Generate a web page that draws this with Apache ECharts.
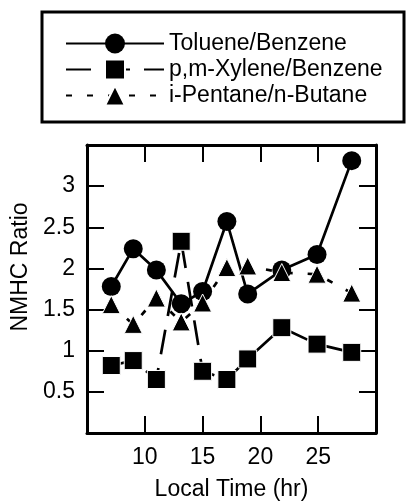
<!DOCTYPE html>
<html>
<head>
<meta charset="utf-8">
<style>
  html, body { margin: 0; padding: 0; background: #fff; }
  #chart { width: 406px; height: 502px; }
</style>
<script src="https://cdn.jsdelivr.net/npm/echarts@6/dist/echarts.min.js"></script>
</head>
<body>
<div id="chart"></div>
<script>
// Data
const localTime = [7.1, 9.0, 11.0, 13.15, 15.0, 17.1, 18.9, 21.85, 24.9, 27.9];
const tolueneBenzene = [1.78, 2.24, 1.98, 1.57, 1.72, 2.57, 1.69, 1.98, 2.17, 3.31];
const xyleneBenzene = [0.82, 0.88, 0.65, 2.33, 0.75, 0.65, 0.90, 1.28, 1.08, 0.98];
const pentaneButane = [1.56, 1.32, 1.64, 1.35, 1.58, 2.01, 2.03, 1.95, 1.93, 1.70];
const seriesNames = ['Toluene/Benzene', 'p,m-Xylene/Benzene', 'i-Pentane/n-Butane'];
const xTickLabels = ['10', '15', '20', '25'];
const yTickLabels = ['0.5', '1', '1.5', '2', '2.5', '3'];

const FONT = 'Liberation Sans, Arial, Helvetica, sans-serif';
const FS = 23;
const pair = (xs, ys) => xs.map((x, i) => [x, ys[i]]);

const chart = echarts.init(document.getElementById('chart'), null, { renderer: 'canvas' });

const axisCommon = {
  axisLine: { show: true, onZero: false, lineStyle: { color: '#000', width: 3 } },
  axisTick: { show: true, inside: true, length: 17, lineStyle: { color: '#000', width: 2 } },
  splitLine: { show: false }
};

const option = {
  animation: false,
  backgroundColor: '#fff',
  textStyle: { fontFamily: FONT },
  grid: { left: 87, right: 30, top: 145, bottom: 69, containLabel: false, outerBoundsMode: 'none' },
  legend: {
    orient: 'vertical',
    left: 60,
    top: 27,
    itemWidth: 98,
    itemHeight: 25,
    itemGap: 3,
    data: seriesNames,
    textStyle: { fontFamily: FONT, fontSize: FS, color: '#000' },
    selectedMode: false
  },
  graphic: [{
    type: 'rect',
    shape: { x: 42, y: 12, width: 362, height: 110 },
    style: { fill: 'none', stroke: '#000', lineWidth: 3 },
    silent: true
  }],
  xAxis: [
    Object.assign({}, axisCommon, {
      type: 'value', position: 'bottom', min: 5, max: 30, interval: 5,
      name: 'Local Time (hr)', nameLocation: 'middle', nameGap: 45,
      nameTextStyle: { fontFamily: FONT, fontSize: FS, color: '#000' },
      axisLabel: {
        fontFamily: FONT, fontSize: FS, color: '#000', margin: 13,
        formatter: v => (xTickLabels.indexOf(String(v)) >= 0 ? String(v) : '')
      }
    }),
    Object.assign({}, axisCommon, {
      type: 'value', position: 'top', min: 5, max: 30, interval: 5,
      axisLabel: { show: false }
    })
  ],
  yAxis: [
    Object.assign({}, axisCommon, {
      type: 'value', position: 'left', min: 0, max: 3.5, interval: 0.5,
      name: 'NMHC Ratio', nameLocation: 'middle', nameGap: 55, nameRotate: 90,
      nameTextStyle: { fontFamily: FONT, fontSize: FS, color: '#000', padding: [0, 0, 0, 44] },
      axisLabel: {
        fontFamily: FONT, fontSize: FS, color: '#000', margin: 12,
        formatter: v => (yTickLabels.indexOf(String(v)) >= 0 ? String(v) : '')
      }
    }),
    Object.assign({}, axisCommon, {
      type: 'value', position: 'right', min: 0, max: 3.5, interval: 0.5,
      axisLabel: { show: false }
    })
  ],
  series: [
    {
      name: seriesNames[0], type: 'line', data: pair(localTime, tolueneBenzene),
      symbol: 'circle', symbolSize: 19,
      lineStyle: { color: '#000', width: 2.7, type: 'solid' },
      itemStyle: { color: '#000' }, z: 3
    },
    {
      name: seriesNames[1], type: 'line', data: pair(localTime, xyleneBenzene),
      symbol: 'rect', symbolSize: 18,
      lineStyle: { color: '#000', width: 2.7, type: [25, 14] },
      itemStyle: { color: '#000', borderColor: '#fff', borderWidth: 1 }, z: 4
    },
    {
      name: seriesNames[2], type: 'line', data: pair(localTime, pentaneButane),
      symbol: 'triangle', symbolSize: 18,
      lineStyle: { color: '#000', width: 2.7, type: [6, 15] },
      itemStyle: { color: '#000', borderColor: '#fff', borderWidth: 1 }, z: 5
    }
  ]
};

chart.setOption(option);
</script>
</body>
</html>
